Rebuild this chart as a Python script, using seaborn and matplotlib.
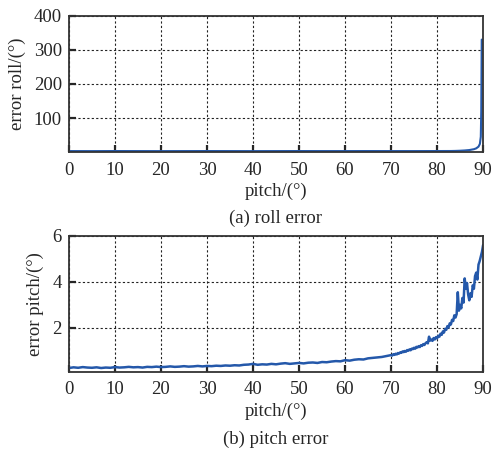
import numpy as np
import pandas as pd
import matplotlib
matplotlib.use("Agg")
import matplotlib.pyplot as plt
import seaborn as sns

# ---- roll error vs pitch ----
roll_pitch = [0, 5, 10, 15, 20, 25, 30, 35, 40, 45, 50, 55, 60, 65, 70, 75, 80,
              83, 84, 85, 86, 87, 88, 88.5, 89, 89.3, 89.5, 89.6, 89.7]
roll_err = [3.0, 2.9, 3.1, 3.0, 2.9, 3.0, 3.1, 3.0, 2.9, 3.0, 3.1, 3.0, 3.0, 3.1, 3.0, 3.0, 3.1,
            3.2, 3.5, 4.0, 4.8, 6.0, 8.5, 11.0, 16.0, 24.0, 45.0, 120.0, 330.0]

# ---- pitch error vs pitch ----
pitch_a = [float(v) for v in range(0, 71)] + [70 + 0.25 * k for k in range(1, 81)]
pitch_err = [
    0.26, 0.29, 0.27, 0.30, 0.28, 0.27, 0.29, 0.26, 0.28, 0.27,
    0.30, 0.28, 0.29, 0.31, 0.29, 0.30, 0.28, 0.31, 0.30, 0.32,
    0.30, 0.31, 0.33, 0.31, 0.32, 0.34, 0.32, 0.33, 0.35, 0.33,
    0.35, 0.34, 0.36, 0.35, 0.37, 0.36, 0.38, 0.37, 0.40, 0.41,
    0.44, 0.40, 0.42, 0.41, 0.44, 0.42, 0.45, 0.47, 0.44, 0.46,
    0.48, 0.46, 0.49, 0.50, 0.48, 0.52, 0.51, 0.54, 0.56, 0.55,
    0.60, 0.58, 0.62, 0.64, 0.63, 0.68, 0.70, 0.72, 0.74, 0.78,
    0.82,
    0.80, 0.86, 0.83, 0.88, 0.85, 0.91, 0.89, 0.94,
    0.92, 0.98, 0.95, 1.00, 0.97, 1.04, 1.01, 1.07,
    1.03, 1.10, 1.08, 1.14, 1.10, 1.18, 1.15, 1.21,
    1.17, 1.25, 1.22, 1.30, 1.26, 1.34, 1.38, 1.33,
    1.62, 1.45, 1.50, 1.44, 1.56, 1.50, 1.60, 1.55,
    1.66, 1.62, 1.75, 1.70, 1.85, 1.80, 1.96, 1.92,
    2.08, 2.02, 2.20, 2.15, 2.35, 2.30, 2.55, 2.45,
    2.60, 3.55, 2.75, 3.00, 2.85, 3.30, 3.10, 4.15,
    3.70, 3.95, 3.45, 3.20, 3.50, 3.35, 3.85, 3.70,
    4.25, 4.40, 4.10, 4.75, 4.90, 5.10, 5.30, 5.60,
]

x_ticks = [0, 10, 20, 30, 40, 50, 60, 70, 80, 90]
roll_ticks = [100, 200, 300, 400]
pitch_ticks = [2, 4, 6]

sns.set_style("white")
plt.rcParams["font.family"] = ["Liberation Serif", "DejaVu Serif"]
plt.rcParams["mathtext.fontset"] = "stix"

line_color = "#2458aa"
fs = 13.5

fig = plt.figure(figsize=(4.96, 4.5), dpi=100)
ax1 = fig.add_axes([0.139, 0.662, 0.835, 0.303])
ax2 = fig.add_axes([0.139, 0.174, 0.835, 0.302])

roll_df = pd.DataFrame({"pitch": roll_pitch, "err": roll_err})
pitch_df = pd.DataFrame({"pitch": pitch_a, "err": pitch_err})

sns.lineplot(data=roll_df, x="pitch", y="err", ax=ax1, color=line_color, lw=1.5)
sns.lineplot(data=pitch_df, x="pitch", y="err", ax=ax2, color=line_color, lw=1.8)


def style(ax, ylim, yticks, ylabel):
    ax.set_xlim(0, 90)
    ax.set_ylim(*ylim)
    ax.set_xticks(x_ticks)
    ax.set_yticks(yticks)
    ax.set_axisbelow(True)
    ax.grid(True, linestyle=(0, (2, 2)), color="#222222", lw=0.8)
    ax.tick_params(axis="x", pad=7)
    ax.tick_params(axis="y", pad=5)
    ax.tick_params(direction="in", length=5, width=1.6, labelsize=fs,
                   top=False, right=False, bottom=True, left=True)
    for s in ax.spines.values():
        s.set_linewidth(1.3)
        s.set_color("#333333")
    ax.set_xlabel("pitch/(°)", fontsize=fs, labelpad=3)
    ax.set_ylabel(ylabel, fontsize=fs, labelpad=6)


style(ax1, (0, 400), roll_ticks, "error roll/(°)")
style(ax2, (0.1, 6), pitch_ticks, "error pitch/(°)")

fig.text(0.555, 1 - 218 / 450, "(a) roll error", ha="center", va="center", fontsize=fs)
fig.text(0.555, 1 - 439 / 450, "(b) pitch error", ha="center", va="center", fontsize=fs)

fig.savefig("out.png", dpi=100, facecolor="white")
